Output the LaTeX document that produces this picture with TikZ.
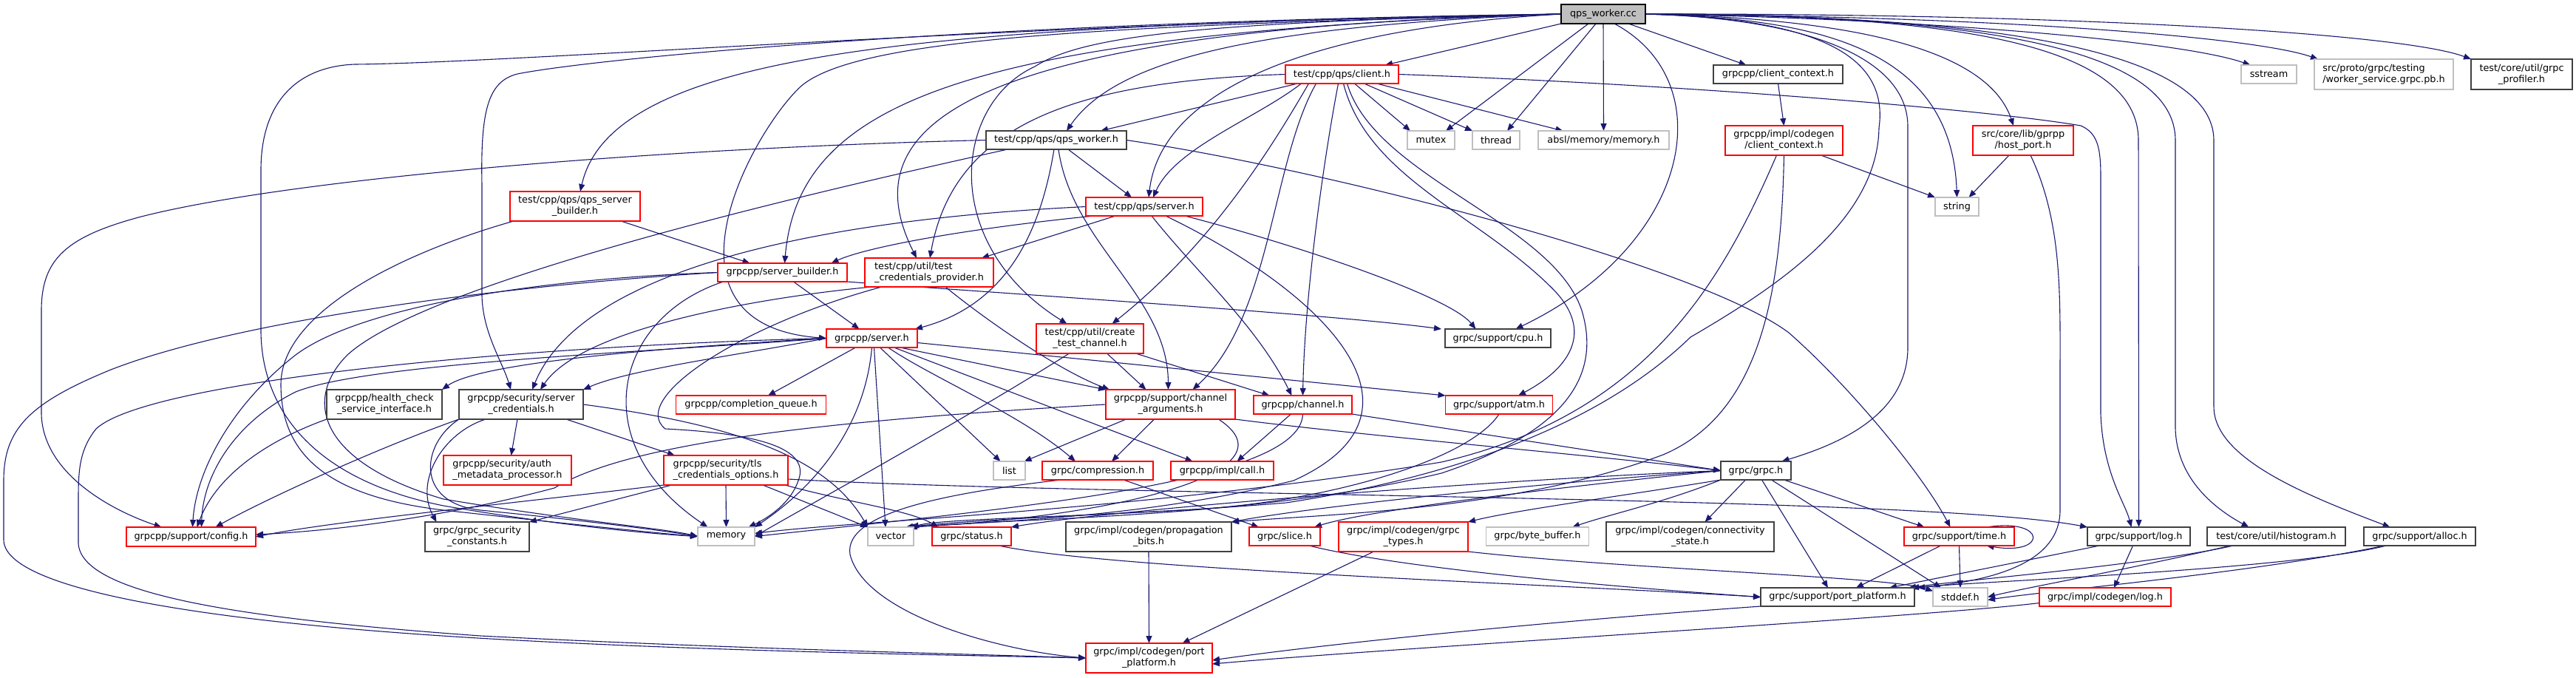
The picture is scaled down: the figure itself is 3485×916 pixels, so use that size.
\documentclass[tikz,border=0pt]{standalone}
\usepackage{fontspec}
\setmainfont{DejaVu Sans}
\usetikzlibrary{arrows.meta,backgrounds}
\definecolor{edgeblue}{HTML}{191970}
\definecolor{gdark}{HTML}{404040}
\definecolor{glight}{HTML}{BFBFBF}
\begin{document}
\begin{tikzpicture}[x=1pt,y=-1pt,
  nd/.style={rectangle,inner sep=0pt,outer sep=0pt,font=\fontsize{12.8}{15}\selectfont,text=black,line width=1.2pt,fill=white},
  nb/.style={nd,draw=gdark},
  nr/.style={nd,draw=red},
  ng/.style={nd,draw=glight},
  nm/.style={nd,draw=black,fill=glight},
  sz/.style 2 args={minimum width=#1,minimum height=#2},
  e/.style={draw=edgeblue,line width=1.1pt,-{Triangle[length=10pt,width=8pt]}}]
\useasboundingbox (0,0) rectangle (3485,916);
% nodes
\node[nm,sz={114pt}{26pt}] (W) at (2169,19) {qps\_worker.cc};
\node[nr,sz={153pt}{25pt}] (client) at (1815.5,100.5) {test/cpp/qps/client.h};
\node[nb,sz={175pt}{25pt}] (cctx) at (2405.5,100.5) {grpcpp/client\_context.h};
\node[ng,sz={75pt}{25pt}] (sstream) at (3069.5,100.5) {sstream};
\node[ng,sz={188pt}{41pt},align=left] (wsvc) at (3225,100.5) {src/proto/grpc/testing\\/worker\_service.grpc.pb.h};
\node[nb,sz={137pt}{41pt},align=center] (prof) at (3411.5,100.5) {test/core/util/grpc\\\_profiler.h};
\node[nb,sz={190pt}{25pt}] (qwh) at (1429,189.5) {test/cpp/qps/qps\_worker.h};
\node[ng,sz={64pt}{25pt}] (mutex) at (1936,189.5) {mutex};
\node[ng,sz={64pt}{25pt}] (thread) at (2024,189.5) {thread};
\node[ng,sz={177pt}{25pt}] (absl) at (2169.5,189.5) {absl/memory/memory.h};
\node[nr,sz={159pt}{40pt},align=center] (ccctx) at (2413.5,190) {grpcpp/impl/codegen\\/client\_context.h};
\node[nr,sz={136pt}{40pt},align=center] (hostport) at (2737,190) {src/core/lib/gprpp\\/host\_port.h};
\node[nr,sz={176pt}{40pt},align=center] (qsb) at (778,279) {test/cpp/qps/qps\_server\\\_builder.h};
\node[nr,sz={158pt}{25pt}] (qserver) at (1548,279.5) {test/cpp/qps/server.h};
\node[ng,sz={59pt}{25pt}] (string) at (2647.5,279.5) {string};
\node[nr,sz={175pt}{25pt}] (sb) at (1058.5,368.5) {grpcpp/server\_builder.h};
\node[nr,sz={174pt}{39pt},align=left] (tcp) at (1257,368.5) {test/cpp/util/test\\\_credentials\_provider.h};
\node[nr,sz={123pt}{25pt}] (server) at (1179.5,457.5) {grpcpp/server.h};
\node[nr,sz={145pt}{40pt},align=center] (ctc) at (1474.5,458) {test/cpp/util/create\\\_test\_channel.h};
\node[nb,sz={143pt}{25pt}] (cpu) at (2026.5,457.5) {grpc/support/cpu.h};
\node[nb,sz={156pt}{40pt},align=center] (hc) at (520,547) {grpcpp/health\_check\\\_service\_interface.h};
\node[nb,sz={168pt}{40pt},align=center] (scred) at (705,547) {grpcpp/security/server\\\_credentials.h};
\node[nr,sz={203pt}{25pt}] (cq) at (1016,547.5) {grpcpp/completion\_queue.h};
\node[nr,sz={175pt}{40pt},align=center] (chargs) at (1583.5,547) {grpcpp/support/channel\\\_arguments.h};
\node[nr,sz={133pt}{25pt}] (channel) at (1762.5,547.5) {grpcpp/channel.h};
\node[nr,sz={145pt}{25pt}] (atm) at (2028,547.5) {grpc/support/atm.h};
\node[nr,sz={173pt}{40pt},align=left] (amp) at (686.5,636) {grpcpp/security/auth\\\_metadata\_processor.h};
\node[nr,sz={168pt}{40pt},align=left] (tls) at (982,636) {grpcpp/security/tls\\\_credentials\_options.h};
\node[ng,sz={43pt}{25pt}] (list) at (1365.5,636.5) {list};
\node[nr,sz={150pt}{25pt}] (compr) at (1485,636.5) {grpc/compression.h};
\node[nr,sz={139pt}{25pt}] (call) at (1653.5,636.5) {grpcpp/impl/call.h};
\node[nb,sz={95pt}{25pt}] (grpch) at (2375.5,636.5) {grpc/grpc.h};
\node[nr,sz={175pt}{26pt}] (config) at (258.5,726) {grpcpp/support/config.h};
\node[nb,sz={141pt}{40pt},align=center] (gsc) at (645.5,726) {grpc/grpc\_security\\\_constants.h};
\node[ng,sz={77pt}{25pt}] (memory) at (982.5,725.5) {memory};
\node[ng,sz={62pt}{25pt}] (vector) at (1205,725.5) {vector};
\node[nr,sz={107pt}{25pt}] (status) at (1314.5,725.5) {grpc/status.h};
\node[nb,sz={224pt}{40pt},align=center] (prop) at (1554,726) {grpc/impl/codegen/propagation\\\_bits.h};
\node[nr,sz={96pt}{25pt}] (slice) at (1738,725.5) {grpc/slice.h};
\node[nr,sz={175pt}{40pt},align=center] (gtypes) at (1898.5,726) {grpc/impl/codegen/grpc\\\_types.h};
\node[ng,sz={139pt}{25pt}] (bb) at (2080,725.5) {grpc/byte\_buffer.h};
\node[nb,sz={227pt}{40pt},align=center] (conn) at (2286.5,726) {grpc/impl/codegen/connectivity\\\_state.h};
\node[nr,sz={149pt}{25pt}] (time) at (2650.5,725.5) {grpc/support/time.h};
\node[nb,sz={139pt}{25pt}] (log) at (2893.5,725.5) {grpc/support/log.h};
\node[nb,sz={187pt}{25pt}] (hist) at (3079.5,725.5) {test/core/util/histogram.h};
\node[nb,sz={151pt}{25pt}] (alloc) at (3273.5,725.5) {grpc/support/alloc.h};
\node[nb,sz={208pt}{25pt}] (spp) at (2486,807.5) {grpc/support/port\_platform.h};
\node[ng,sz={74pt}{25pt}] (stddef) at (2652,807.5) {stddef.h};
\node[nr,sz={178pt}{25pt}] (clog) at (2848,807.5) {grpc/impl/codegen/log.h};
\node[nr,sz={171pt}{40pt},align=center] (cpp) at (1554.5,890) {grpc/impl/codegen/port\\\_platform.h};
\begin{scope}[on background layer]
\fill[white] (0,0) rectangle (3485,916);
% qps_worker.cc
\draw[e] (W.south west) -- ([xshift=-18pt]client.north east);
\draw[e] ([xshift=-23pt]W.south east) -- ([xshift=-43pt]cctx.north);
\draw[e] ([xshift=-20pt]W.south) -- ([xshift=20pt]mutex.north);
\draw[e] ([xshift=-10pt]W.south) -- ([xshift=15pt]thread.north);
\draw[e] (W.south) -- (absl.north);
\draw[e] ([xshift=15pt]W.south) .. controls (2330,110) and (2290,330) .. ([xshift=24pt]cpu.north);
\draw[e] (W.east) .. controls (2600,25) and (2950,55) .. ([xshift=-25pt]sstream.north);
\draw[e] (W.east) .. controls (2700,22) and (3050,50) .. ([xshift=5pt]wsvc.north west);
\draw[e] (W.east) .. controls (2800,18) and (3250,45) .. (prof.north west);
\draw[e] (W.west) .. controls (1700,35) and (1510,80) .. ([xshift=14pt]qwh.north);
\draw[e] (W.west) .. controls (1300,35) and (830,60) .. ([xshift=7pt]qsb.north);
\draw[e] (W.west) .. controls (1750,40) and (1570,130) .. ([xshift=6pt]qserver.north);
\draw[e] (W.west) .. controls (1300,45) and (1080,140) .. ([xshift=3pt]sb.north);
\draw[e] (W.west) .. controls (1300,40) and (1150,170) .. ([xshift=-17pt]tcp.north);
\draw[e] (W.west) .. controls (1500,35) and (1150,50) .. (1080,120) .. controls (1010,190) and (880,440) .. (server.west);
\draw[e] (W.west) .. controls (1650,30) and (1470,45) .. (1400,90) .. controls (1290,140) and (1270,330) .. ([xshift=-31pt]ctc.north);
\draw[e] (W.west) .. controls (1300,30) and (800,80) .. (700,100) .. controls (660,110) and (650,150) .. (652,250) -- (652,400) .. controls (653,450) and (680,490) .. ([xshift=-14pt]scred.north);
\draw[e] (W.west) .. controls (1400,30) and (700,85) .. (480,87) .. controls (400,90) and (353,140) .. (353,230) -- (353,450) .. controls (355,560) and (430,650) .. (600,684) .. controls (750,710) and (880,722) .. (memory.west);
\draw[e] (W.east) .. controls (2470,25) and (2555,80) .. (2542,173) .. controls (2540,300) and (2400,390) .. (2287,456) .. controls (2180,560) and (2000,640) .. (1740,680) .. controls (1500,700) and (1280,700) .. ([xshift=28pt]vector.north);
\draw[e] (W.east) .. controls (2450,25) and (2580,80) .. (2581,170) -- (2581,470) .. controls (2581,560) and (2490,600) .. ([xshift=35pt]grpch.north);
\draw[e] (W.east) .. controls (2450,25) and (2640,60) .. (string.north);
\draw[e] (W.east) .. controls (2520,25) and (2690,70) .. ([xshift=-13pt]hostport.north);
\draw[e] (W.east) .. controls (2650,20) and (2893,60) .. (2893,190) -- (log.north);
\draw[e] (W.east) .. controls (2700,20) and (2943,70) .. (2943,190) -- (2943,580) .. controls (2945,650) and (3000,690) .. ([xshift=-37pt]hist.north);
\draw[e] (W.east) .. controls (2750,20) and (2995,80) .. (2995,190) -- (2995,550) .. controls (2995,620) and (3120,670) .. ([xshift=-40pt]alloc.north);
% client.h
\draw[e] ([xshift=-60pt]client.south) -- ([xshift=60pt]qwh.north);
\draw[e] ([xshift=-55pt]client.south) .. controls (1700,160) and (1590,200) .. ([xshift=12pt]qserver.north);
\draw[e] (client.west) .. controls (1450,110) and (1290,170) .. ([xshift=1pt]tcp.north);
\draw[e] ([xshift=-45pt]client.south) .. controls (1720,200) and (1640,330) .. ([xshift=30pt]ctc.north);
\draw[e] ([xshift=17pt]client.south) -- ([xshift=-28pt]mutex.north);
\draw[e] ([xshift=30pt]client.south) -- ([xshift=-32pt]thread.north);
\draw[e] ([xshift=47pt]client.south) -- ([xshift=-55pt]absl.north);
\draw[e] ([xshift=-5pt]client.south) .. controls (1790,220) and (1765,400) .. (channel.north);
\draw[e] ([xshift=-35pt]client.south) .. controls (1720,220) and (1720,430) .. ([xshift=30pt]chargs.north);
\draw[e] (client.east) .. controls (2300,115) and (2700,150) .. (2815,170) .. controls (2838,180) and (2842,200) .. (2842,240) -- (2842,560) .. controls (2845,640) and (2875,680) .. ([xshift=-10pt]log.north);
\draw[e] ([xshift=2pt]client.south) .. controls (1850,240) and (2000,290) .. (2100,390) .. controls (2160,450) and (2120,500) .. ([xshift=26pt]atm.north);
\draw[e] ([xshift=7pt]client.south) .. controls (1860,240) and (2100,300) .. (2140,420) .. controls (2170,520) and (2100,590) .. (1950,640) .. controls (1700,700) and (1400,700) .. ([xshift=26pt]vector.north);
% qps_worker.h
\draw[e] (qwh.west) .. controls (900,200) and (400,240) .. (191,293) .. controls (90,320) and (56,350) .. (56,420) -- (56,560) .. controls (58,640) and (150,690) .. ([xshift=-40pt]config.north);
\draw[e] ([xshift=-66pt]qwh.south) .. controls (1100,260) and (580,380) .. (470,480) .. controls (410,540) and (430,625) .. (600,675) .. controls (780,705) and (900,715) .. (memory.west);
\draw[e] ([xshift=-3pt]qwh.south) .. controls (1410,300) and (1370,410) .. ([xshift=-3pt]server.north east);
\draw[e] ([xshift=16pt]qwh.south) -- ([xshift=-17pt]qserver.north);
\draw[e] ([xshift=3pt]qwh.south) .. controls (1450,330) and (1580,400) .. ([xshift=-3pt]chargs.north);
\draw[e] (qwh.east) .. controls (1800,230) and (2300,360) .. (2420,450) .. controls (2500,520) and (2600,640) .. ([xshift=-12pt]time.north);
% qps_server_builder.h
\draw[e] ([xshift=62pt]qsb.south) -- ([xshift=-44pt]sb.north);
\draw[e] ([xshift=-83pt]qsb.south) .. controls (550,340) and (380,420) .. (380,520) .. controls (380,620) and (450,672) .. (600,690) .. controls (800,712) and (900,722) .. (memory.west);
% server_builder.h
\draw[e] ([xshift=15pt]sb.south) -- ([xshift=-17pt]server.north);
\draw[e] (sb.west) .. controls (700,385) and (330,430) .. (150,500) .. controls (40,545) and (5,580) .. (5,650) -- (5,730) .. controls (5,800) and (300,845) .. (700,866) .. controls (1000,882) and (1300,886) .. (cpp.west);
\draw[e] (sb.west) .. controls (700,378) and (480,420) .. (400,480) .. controls (310,550) and (265,640) .. ([xshift=2pt]config.north);
\draw[e] (sb.south east) .. controls (1400,400) and (1800,425) .. ([xshift=-5pt]cpu.north west);
\draw[e] ([xshift=-80pt]sb.south) .. controls (830,430) and (790,600) .. ([xshift=-25pt]memory.north);
% test_credentials_provider.h
\draw[e] ([xshift=-77pt]tcp.south) .. controls (1050,400) and (790,440) .. ([xshift=26pt]scred.north);
\draw[e] ([xshift=-64pt]tcp.south) .. controls (1000,440) and (850,540) .. (900,580) .. controls (1000,585) and (1100,600) .. (1080,650) .. controls (1070,680) and (1040,700) .. ([xshift=30pt]memory.north);
\draw[e] ([xshift=22pt]tcp.south) .. controls (1330,430) and (1430,500) .. ([xshift=5pt]chargs.north west);
% test/cpp/qps/server.h
\draw[e] ([xshift=-68pt]qserver.south) .. controls (1300,310) and (1170,335) .. ([xshift=66pt]sb.north);
\draw[e] ([xshift=-39pt]qserver.south) -- ([xshift=71pt]tcp.north);
\draw[e] (qserver.west) .. controls (1050,300) and (780,380) .. ([xshift=15pt]scred.north);
\draw[e] ([xshift=10pt]qserver.south) .. controls (1620,370) and (1700,440) .. ([xshift=-15pt]channel.north);
\draw[e] ([xshift=55pt]qserver.south) .. controls (1750,330) and (1960,400) .. ([xshift=-30pt]cpu.north);
\draw[e] ([xshift=29pt]qserver.south) .. controls (1800,400) and (1950,560) .. (1750,650) .. controls (1550,700) and (1350,705) .. ([xshift=24pt]vector.north);
% grpcpp/server.h
\draw[e] (server.west) .. controls (900,470) and (650,490) .. (hc.north east);
\draw[e] (server.west) .. controls (1000,480) and (850,500) .. (scred.north east);
\draw[e] ([xshift=-22pt]server.south) -- ([xshift=23pt]cq.north);
\draw[e] (server.south) .. controls (1170,580) and (1100,660) .. (memory.north east);
\draw[e] ([xshift=11pt]server.south) -- ([xshift=-12pt]list.north);
\draw[e] ([xshift=22pt]server.south) .. controls (1260,510) and (1380,560) .. ([xshift=-30pt]compr.north);
\draw[e] ([xshift=30pt]server.south) -- ([xshift=-40pt]call.north);
\draw[e] ([xshift=38pt]server.south) -- (chargs.north west);
\draw[e] ([yshift=-6pt]server.east) -- (atm.north west);
\draw[e] ([xshift=3pt]server.south) -- ([xshift=-7pt]vector.north);
\draw[e] (server.west) .. controls (900,475) and (500,490) .. (400,530) .. controls (320,570) and (275,640) .. ([xshift=14pt]config.north);
\draw[e] (server.west) .. controls (700,468) and (200,515) .. (130,580) .. controls (106,610) and (106,640) .. (106,680) -- (106,735) .. controls (110,800) and (300,835) .. (650,860) .. controls (1000,878) and (1300,884) .. (cpp.west);
% create_test_channel.h
\draw[e] ([xshift=23pt]ctc.south) -- ([xshift=-33pt]chargs.north);
\draw[e] ([xshift=62pt]ctc.south) -- ([xshift=-45pt]channel.north);
\draw[e] ([xshift=-28pt]ctc.south) .. controls (1300,570) and (1100,680) .. (memory.east);
% health_check
\draw[e] (hc.south west) .. controls (350,600) and (290,650) .. ([xshift=8pt]config.north);
% server_credentials.h
\draw[e] (scred.south west) .. controls (500,610) and (350,680) .. ([xshift=33pt]config.north);
\draw[e] ([xshift=-5pt]scred.south) -- ([xshift=5pt]amp.north);
\draw[e] ([xshift=61pt]scred.south) -- ([xshift=-69pt]tls.north);
\draw[e] ([xshift=-48pt]scred.south) .. controls (600,585) and (560,650) .. ([xshift=-55pt]gsc.north);
\draw[e] (scred.south west) .. controls (570,600) and (560,680) .. (650,690) .. controls (800,705) and (900,718) .. (memory.west);
\draw[e] (scred.east) .. controls (1000,575) and (1120,620) .. (vector.north west);
% tls_credentials_options.h
\draw[e] (tls.south west) .. controls (700,680) and (450,705) .. (config.east);
\draw[e] ([xshift=-73pt]tls.south) -- (gsc.north east);
\draw[e] (tls.south) -- (memory.north);
\draw[e] ([xshift=50pt]tls.south) -- (vector.north west);
\draw[e] ([xshift=80pt]tls.south) .. controls (1150,680) and (1230,690) .. ([xshift=-45pt]status.north);
\draw[e] ([yshift=-12pt]tls.east) .. controls (1500,672) and (2600,670) .. (log.north west);
% channel_arguments.h
\draw[e] ([xshift=-60pt]chargs.south) -- ([xshift=20pt]list.north);
\draw[e] ([xshift=-22pt]chargs.south) -- ([xshift=19pt]compr.north);
\draw[e] (chargs.south east) .. controls (1850,590) and (2150,615) .. (grpch.west);
\draw[e] (chargs.west) .. controls (1100,570) and (850,600) .. (750,660) .. controls (600,700) and (450,718) .. ([yshift=3pt]config.east);
\draw[e] ([xshift=65pt]chargs.south) .. controls (1760,640) and (1500,700) .. ([xshift=22pt]vector.north);
% channel.h
\draw[e] ([xshift=-16pt]channel.south) -- ([xshift=20pt]call.north);
\draw[e] (channel.south east) -- (grpch.west);
\draw[e] (channel.south) .. controls (1760,650) and (1400,685) .. (memory.east);
% atm.h
\draw[e] (atm.south) .. controls (1990,620) and (1800,680) .. (1600,690) .. controls (1400,700) and (1300,705) .. ([xshift=20pt]vector.north);
% compression.h
\draw[e] ([xshift=35pt]compr.south) -- ([xshift=-35pt]slice.north);
\draw[e] ([xshift=-50pt]compr.south) .. controls (1300,665) and (1140,690) .. (1150,750) .. controls (1170,830) and (1350,880) .. (cpp.west);
% grpc.h
\draw[e] ([xshift=38pt]grpch.south) -- ([xshift=-47pt]time.north);
\draw[e] ([xshift=8pt]grpch.south) -- ([xshift=-13pt]spp.north);
\draw[e] ([xshift=21pt]grpch.south) -- ([xshift=-26pt]stddef.north);
\draw[e] ([xshift=-14pt]grpch.south) -- ([xshift=20pt]conn.north);
\draw[e] (grpch.south west) .. controls (2250,680) and (2180,695) .. ([xshift=47pt]bb.north);
\draw[e] (grpch.south west) .. controls (2200,670) and (2050,690) .. (gtypes.north east);
\draw[e] (grpch.west) .. controls (2100,660) and (1850,690) .. ([xshift=40pt]slice.north);
\draw[e] (grpch.west) .. controls (2000,660) and (1750,690) .. (prop.north east);
\draw[e] (grpch.west) .. controls (2000,650) and (1500,690) .. (status.north east);
% lower level
\draw[e] ([xshift=37pt]status.south) .. controls (1500,770) and (2100,790) .. (spp.west);
\draw[e] (prop.south) -- (cpp.north);
\draw[e] ([xshift=33pt]slice.south) .. controls (1900,770) and (2200,795) .. (spp.west);
\draw[e] ([xshift=-40pt]gtypes.south) -- ([xshift=45pt]cpp.north);
\draw[e] (gtypes.south east) .. controls (2200,770) and (2560,780) .. ([yshift=8pt]stddef.west);
\draw[e] ([xshift=-25pt]time.south) -- ([xshift=25pt]spp.north);
\draw[e] (time.south) -- (stddef.north);
\draw[e] ([xshift=37pt]time.north) .. controls (2770,700) and (2770,752) .. ([xshift=37pt]time.south);
\draw[e] ([xshift=-53pt]log.south) -- ([xshift=70pt]spp.north);
\draw[e] ([xshift=-8pt]log.south) -- ([xshift=12pt]clog.north);
\draw[e] ([xshift=-58pt]hist.south) .. controls (2900,765) and (2650,785) .. ([xshift=-8pt]spp.north east);
\draw[e] ([xshift=-62pt]hist.south) .. controls (2880,770) and (2740,795) .. (stddef.east);
\draw[e] ([xshift=-45pt]alloc.south) .. controls (3100,770) and (2700,785) .. ([xshift=-4pt]spp.north east);
\draw[e] ([xshift=-48pt]alloc.south) .. controls (3050,775) and (2760,800) .. ([yshift=-4pt]stddef.east);
\draw[e] (spp.south west) .. controls (2100,840) and (1800,870) .. ([yshift=-3pt]cpp.east);
\draw[e] ([yshift=-8pt]clog.west) .. controls (2600,835) and (1900,875) .. ([yshift=-8pt]cpp.east);
% host_port, client_context
\draw[e] ([xshift=-19pt]hostport.south) -- ([xshift=16pt]string.north);
\draw[e] ([xshift=10pt]hostport.south) .. controls (2790,300) and (2787,400) .. (2787,500) -- (2787,690) .. controls (2787,760) and (2700,785) .. ([xshift=4pt]spp.north east);
\draw[e] (cctx.south) -- (ccctx.north);
\draw[e] ([xshift=50pt]ccctx.south) -- (string.north west);
\draw[e] ([xshift=-10pt]ccctx.south) .. controls (2330,380) and (2230,560) .. (1950,625) .. controls (1550,690) and (1150,705) .. ([yshift=4pt]memory.east);
\draw[e] (ccctx.south) .. controls (2410,400) and (2380,560) .. (2250,615) .. controls (2050,690) and (1800,695) .. (prop.north east);
\end{scope}
\end{tikzpicture}
\end{document}
